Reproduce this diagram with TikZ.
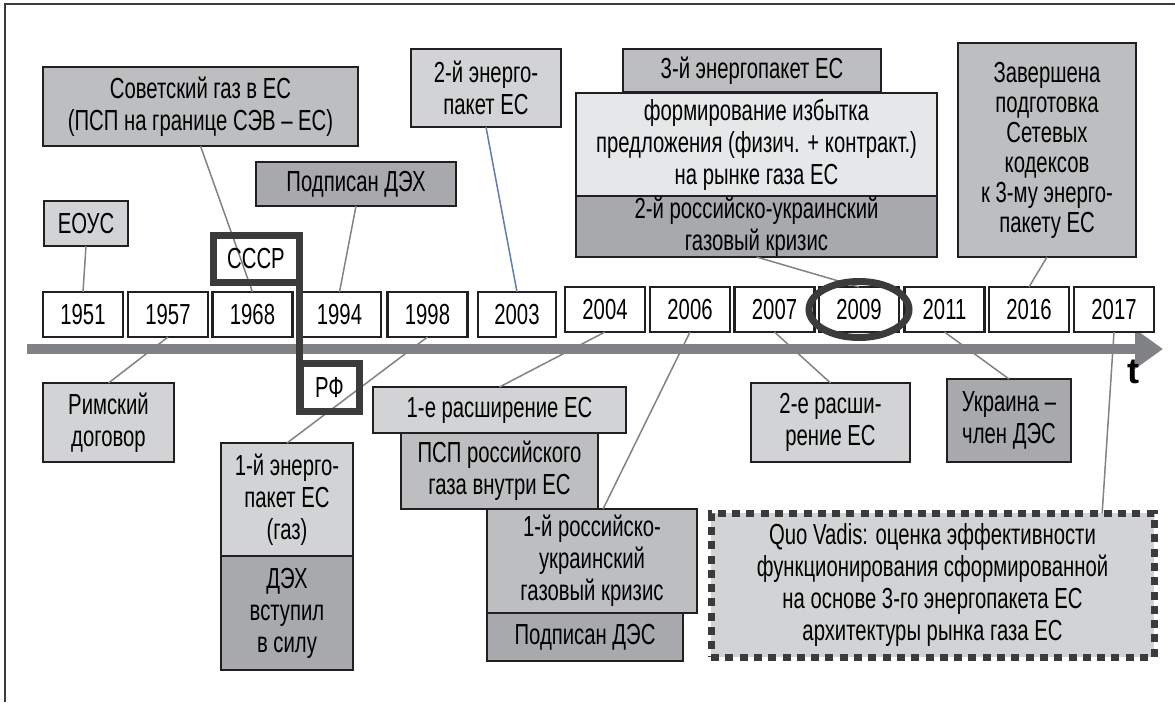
\documentclass[tikz,border=0pt]{standalone}
\usepackage{fontspec}
\setmainfont{Liberation Sans}[FakeStretch=0.7]
\newfontfamily\axisfont{Liberation Sans}
\usetikzlibrary{arrows.meta, positioning}
\definecolor{boxline}{HTML}{231F20}
\definecolor{linkgray}{HTML}{808285}
\definecolor{linkblue}{HTML}{5B7DB1}
\definecolor{heavygray}{HTML}{3B3B3C}
\definecolor{boxpale}{HTML}{E6E7E8}
\definecolor{boxlight}{HTML}{D1D3D4}
\definecolor{boxmid}{HTML}{BCBEC0}
\definecolor{boxdark}{HTML}{A7A9AC}

\begin{document}
\begin{tikzpicture}[x=1pt, y=-1pt,
    every node/.style={font=\fontsize{29}{32}\selectfont, text=black, align=center, inner sep=0pt},
    box/.style={draw=boxline, line width=2.5pt, outer sep=0pt, line join=miter},
    yearbox/.style={box, fill=white, minimum width=80pt, minimum height=45pt},
    palebox/.style={box, fill=boxpale},
    lightbox/.style={box, fill=boxlight},
    midbox/.style={box, fill=boxmid},
    darkbox/.style={box, fill=boxdark},
    quobox/.style={fill=boxlight, draw=heavygray, line width=7pt, dash pattern=on 8pt off 6.3pt, outer sep=0pt},
    heavy/.style={draw=heavygray, line width=7pt, line join=miter},
    link/.style={draw=linkgray, line width=1.5pt},
    text=black]
  \useasboundingbox (0,0) rectangle (1175,702);
  \draw[draw=heavygray, line width=2pt] (5,702) -- (5,4) -- (1175,4);

  % time axis
  \draw[draw=linkgray, line width=10pt, -{Triangle[length=28pt, width=38pt]}] (27,349) -- (1163,349);
  \node (tlabel) at (1133,372) {\axisfont\fontsize{36}{36}\selectfont\bfseries t};

  % years
  \node[yearbox] (y1951) at (83,314.5) {1951};
  \node[yearbox] (y1957) at (168,314.5) {1957};
  \node[yearbox] (y1968) at (252.5,314.5) {1968};
  \node[yearbox, minimum width=83pt] (y1994) at (339.5,314.5) {1994};
  \node[yearbox] (y1998) at (427.5,314.5) {1998};
  \node[yearbox, minimum width=78pt] (y2003) at (517,314.5) {2003};
  \node[yearbox] (y2004) at (605,309.5) {2004};
  \node[yearbox] (y2006) at (690,309.5) {2006};
  \node[yearbox] (y2007) at (774.5,309.5) {2007};
  \node[yearbox] (y2009) at (859,309.5) {2009};
  \node[yearbox] (y2011) at (944.5,309.5) {2011};
  \node[yearbox] (y2016) at (1029,309.5) {2016};
  \node[yearbox] (y2017) at (1114,309.5) {2017};

  % events above the axis
  \node[lightbox, minimum width=84pt, minimum height=45pt] (eous) at (86,223.5) {ЕОУС};
  \node[midbox, minimum width=315pt, minimum height=79pt] (sovgas) at (200.5,106.5)
    {Советский газ в ЕС\\(ПСП на границе СЭВ – ЕС)};
  \node[darkbox, minimum width=200pt, minimum height=44pt] (dekh) at (356,184) {Подписан ДЭХ};
  \node[lightbox, minimum width=150pt, minimum height=78pt] (pack2) at (486,88) {2-й энерго-\\пакет ЕС};
  \node[midbox, minimum width=258pt, minimum height=43pt] (pack3) at (752,70.5) {3-й энергопакет ЕС};
  \node[palebox, minimum width=361pt, minimum height=103pt] (surplus) at (756.5,144.5)
    {формирование избытка\\предложения (физич. + контракт.)\\на рынке газа ЕС};
  \node[darkbox, minimum width=361pt, minimum height=61pt, below=0pt of surplus] (crisis2)
    {2-й российско-украинский\\газовый кризис};
  \node[midbox, minimum width=178pt, minimum height=214pt, font=\fontsize{29}{30}\selectfont] (codes) at (1047,150)
    {Завершена\\подготовка\\Сетевых\\кодексов\\к 3-му энерго-\\пакету ЕС};

  % events below the axis
  \node[lightbox, minimum width=131pt, minimum height=79pt] (rome) at (108.5,422.5) {Римский\\договор};
  \node[lightbox, minimum width=132pt, minimum height=113pt] (pack1) at (287,499.5) {1-й энерго-\\пакет ЕС\\(газ)};
  \node[darkbox, minimum width=132pt, minimum height=114pt, below=0pt of pack1] (dekhin) {ДЭХ\\вступил\\в силу};
  \node[lightbox, minimum width=253pt, minimum height=46pt] (enl1) at (499.5,410) {1-е расширение ЕС};
  \node[midbox, minimum width=197pt, minimum height=76pt, below=0pt of enl1] (psp) {ПСП российского\\газа внутри ЕС};
  \node[midbox, minimum width=210pt, minimum height=104pt] (crisis1) at (592,561)
    {1-й российско-\\украинский\\газовый кризис};
  \node[darkbox, minimum width=196pt, minimum height=48pt, below=0pt of crisis1.south west, anchor=north west] (des)
    {Подписан ДЭС};
  \node[lightbox, minimum width=159pt, minimum height=79pt] (enl2) at (830.5,422.5) {2-е расши-\\рение ЕС};
  \node[darkbox, minimum width=124pt, minimum height=83pt] (ukr) at (1009,420.5) {Украина –\\член ДЭС};
  \node[quobox, minimum width=443pt, minimum height=144pt] (quo) at (932.5,585)
    {Quo Vadis: оценка эффективности\\функционирования сформированной\\на основе 3-го энергопакета ЕС\\архитектуры рынка газа ЕС};

  % links
  \draw[link] (eous.south) -- (y1951.north);
  \draw[link] (sovgas.south) -- (y1968.north);
  \draw[link] (dekh.south) -- (y1994.north);
  \draw[link, draw=linkblue] (pack2.south) -- (y2003.north);
  \draw[link] (crisis2.south) -- (y2009.north);
  \draw[link] (codes.south) -- (y2016.north);
  \draw[link] (rome.north) -- (y1957.south);
  \draw[link] (pack1.north) -- (y1998.south);
  \draw[link] (enl1.north) -- (y2004.south);
  \draw[link] (crisis1.78) -- (y2006.south);
  \draw[link] (enl2.north) -- (y2007.south);
  \draw[link] (ukr.north) -- (y2011.south);
  \draw[link] (quo.23) -- (y2017.south);

  % USSR / RF step and 2009 mark
  \node[heavy, minimum width=86pt, minimum height=47pt, outer sep=0pt] (ussr) at (256,258.5) {СССР};
  \node[heavy, minimum width=59pt, minimum height=48pt, outer sep=0pt] (rf) at (329.5,387.5) {РФ};
  \draw[heavy, line cap=rect] (ussr.north east) -- (ussr.north east |- rf.south);
  \draw[heavy] (y2009.center) ellipse [x radius=50, y radius=28];
\end{tikzpicture}
\end{document}
